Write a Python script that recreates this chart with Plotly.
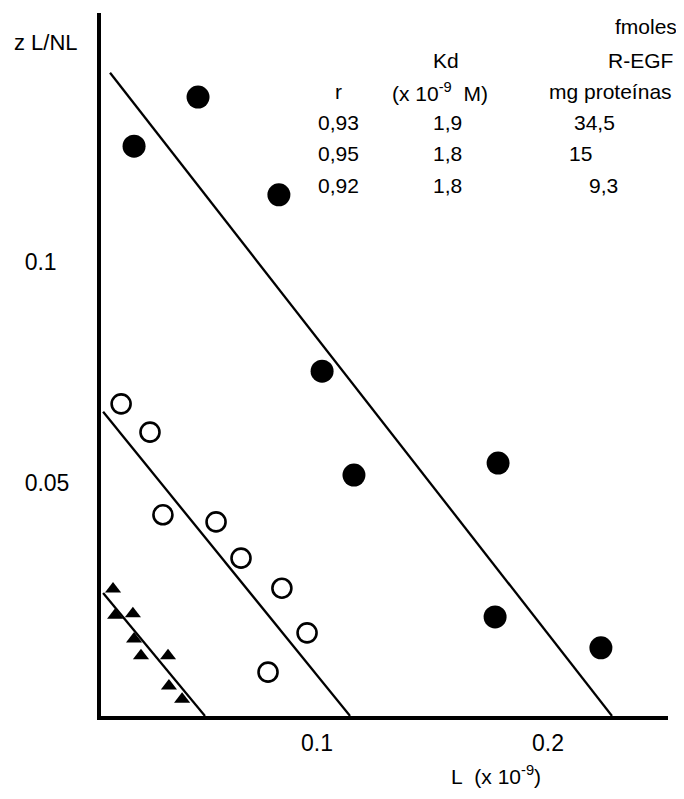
import plotly.graph_objects as go

# ---- data ----
# Scatchard plot: x = L (x 10^-9), y = z L/NL
filled_x = [0.0485, 0.0208, 0.0835, 0.1022, 0.1160, 0.1784, 0.1771, 0.2229]
filled_y = [0.1373, 0.1262, 0.1152, 0.0753, 0.0518, 0.0545, 0.0197, 0.0127]

open_x = [0.0152, 0.0277, 0.0333, 0.0563, 0.0671, 0.0848, 0.0957, 0.0788]
open_y = [0.0679, 0.0615, 0.0428, 0.0412, 0.0330, 0.0262, 0.0161, 0.0072]

tri_x = [0.0117, 0.0126, 0.0203, 0.0208, 0.0238, 0.0355, 0.0359, 0.0416]
tri_y = [0.0260, 0.0201, 0.0204, 0.0147, 0.0109, 0.0109, 0.0041, 0.0011]

# regression lines (start and end points as drawn)
fit_filled_x = [0.0104, 0.2277]
fit_filled_y = [0.1428, -0.0027]
fit_open_x = [0.0074, 0.1143]
fit_open_y = [0.0661, -0.0027]
fit_tri_x = [0.0074, 0.0515]
fit_tri_y = [0.0251, -0.0027]

x_tick_vals = [0.1, 0.2]
x_tick_text = ["0.1", "0.2"]
y_tick_vals = [0.05, 0.1]
y_tick_text = ["0.05", "0.1\u00a0\u00a0"]

# inset table
table_r = ["0,93", "0,95", "0,92"]
table_kd = ["1,9", "1,8", "1,8"]
table_bmax = ["34,5", "15", "9,3"]

FONT = "Liberation Sans, Arial, sans-serif"

# the page body adds an 8 px margin around the figure
OFF = 8
PAGE_W, PAGE_H = 684, 799
W, H = PAGE_W - 2 * OFF, PAGE_H - 2 * OFF

# plot area in page pixels
P_LEFT, P_RIGHT, P_TOP, P_BOTTOM = 101, 668, 13, 716
ML = P_LEFT - OFF
MT = P_TOP - OFF
MR = W - (P_RIGHT - OFF)
MB = H - (P_BOTTOM - OFF)
PW = P_RIGHT - P_LEFT
PH = P_BOTTOM - P_TOP


def px(xp):
    return (xp - P_LEFT) / PW


def py(yp):
    return (P_BOTTOM - yp) / PH


fig = go.Figure()

line_style = dict(color="black", width=2.3)
fig.add_trace(go.Scatter(x=fit_filled_x, y=fit_filled_y, mode="lines", line=line_style, hoverinfo="skip"))
fig.add_trace(go.Scatter(x=fit_open_x, y=fit_open_y, mode="lines", line=line_style, hoverinfo="skip"))
fig.add_trace(go.Scatter(x=fit_tri_x, y=fit_tri_y, mode="lines", line=line_style, hoverinfo="skip"))

fig.add_trace(go.Scatter(x=filled_x, y=filled_y, mode="markers",
                         marker=dict(symbol="circle", size=23, color="black", line=dict(width=0))))
fig.add_trace(go.Scatter(x=open_x, y=open_y, mode="markers",
                         marker=dict(symbol="circle-open", size=19, color="black", line=dict(width=2.6))))
fig.add_trace(go.Scatter(x=tri_x, y=tri_y, mode="markers",
                         marker=dict(symbol="triangle-up", size=14, color="black", line=dict(width=0))))

annotations = []
NB = "\u00a0"


def add_text(text, xc, yc, size=21, xanchor="center", yanchor="middle"):
    annotations.append(dict(text=text, x=px(xc), y=py(yc), xref="paper", yref="paper",
                            xanchor=xanchor, yanchor=yanchor, showarrow=False,
                            font=dict(family=FONT, size=size, color="black")))


# axis labels
add_text("z L/NL", 46, 42, size=22)
add_text("L" + NB + NB + "(x 10<sup>-9</sup>)", 496, 790, size=21, yanchor="bottom")

# table header
add_text("fmoles", 646, 27)
add_text("Kd", 446, 60)
add_text("R-EGF", 640, 60)
add_text("r", 338, 92)
add_text("(x 10<sup>-9</sup>" + NB + NB + "M)", 440, 92)
add_text("mg proteínas", 610, 92)

row_y = [123, 153, 185]
for i in range(3):
    add_text(table_r[i], 338, row_y[i])
    add_text(table_kd[i], 447, row_y[i])
add_text(table_bmax[0], 594, row_y[0])
add_text(table_bmax[1], 580, row_y[1])
add_text(table_bmax[2], 603, row_y[2])

fig.update_layout(
    width=W, height=H,
    margin=dict(l=ML, r=MR, t=MT, b=MB, pad=0),
    paper_bgcolor="white", plot_bgcolor="white",
    showlegend=False,
    annotations=annotations,
    font=dict(family=FONT, color="black"),
)

fig.update_xaxes(range=[0.00649, 0.25195], showgrid=False, zeroline=False,
                 showline=True, linecolor="black", linewidth=4,
                 tickvals=x_tick_vals, ticktext=x_tick_text, ticks="",
                 ticklabelstandoff=3,
                 tickfont=dict(family=FONT, size=23, color="black"))
fig.update_yaxes(range=[-0.002715, 0.15633], showgrid=False, zeroline=False,
                 showline=True, linecolor="black", linewidth=4,
                 tickvals=y_tick_vals, ticktext=y_tick_text, ticks="",
                 ticklabelstandoff=23,
                 tickfont=dict(family=FONT, size=23, color="black"))

fig.write_html("out.html")
